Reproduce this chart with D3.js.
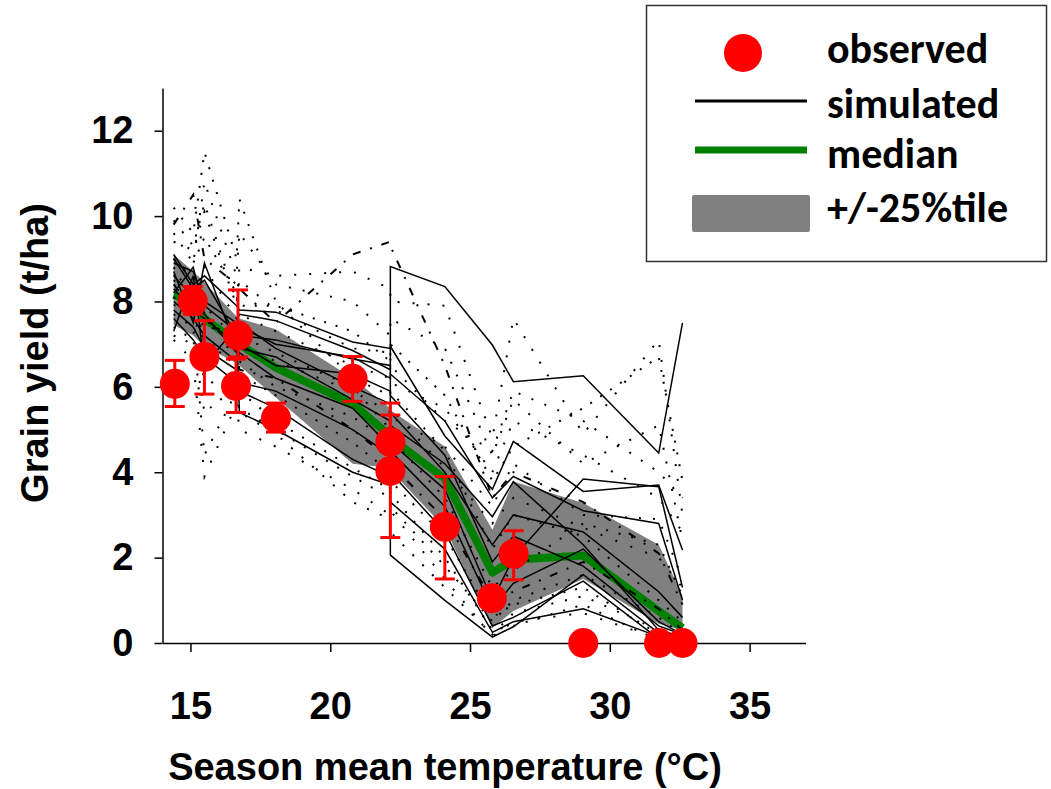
<!DOCTYPE html>
<html>
<head>
<meta charset="utf-8">
<script src="https://cdn.jsdelivr.net/npm/d3@7/dist/d3.min.js"></script>
<style>
  body { margin: 0; background: #fff; }
  svg { display: block; }
  .axis text { font-family: 'Liberation Sans', Arial, sans-serif; font-weight: bold; font-size: 38px; fill: #000; }
  .axis path, .axis line { stroke: #000; stroke-width: 1.5; }
  .title { font-family: 'Liberation Sans', Arial, sans-serif; font-weight: bold; font-size: 38px; }
  .legend text { font-family: Carlito, Lato, 'Open Sans', sans-serif; font-weight: bold; font-size: 42px; }
</style>
</head>
<body>
<svg id="chart" width="1051" height="789"></svg>
<script>
'use strict';

// site mean temperatures, sorted (two sites share 16.7 and 22.15)
const sites = [14.4, 15.1, 15.5, 16.65, 16.75, 18.05, 20.8, 22.15, 22.15, 24.1, 25.8, 26.55, 29.05, 31.75, 32.6];

// observed yield per site with error bar limits (null = no bar)
const obsTemp = [14.44, 15.08, 15.5, 16.63, 16.7, 18.06, 20.8, 22.15, 22.15, 24.1, 25.78, 26.56, 29.05, 31.76, 32.6];
const obsYield = [6.07, 8.01, 6.7, 6.02, 7.2, 5.27, 6.19, 4.71, 4.03, 2.72, 1.05, 2.09, 0, 0, 0];
const obsLow = [5.54, 7.7, 5.83, 5.4, 6.7, 4.94, 5.66, 3.9, 2.47, 1.5, null, 1.48, null, null, null];
const obsHigh = [6.62, 8.35, 7.55, 6.65, 8.27, 5.62, 6.71, 5.62, 5.34, 3.9, null, 2.63, null, null, null];

// ensemble median and inter-quartile band
const median = [8.15, 8.0, 7.6, 7.05, 7.0, 6.45, 5.6, 4.85, 4.8, 3.85, 1.65, 1.95, 2.05, 0.75, 0.35];
const upper = [9.1, 8.7, 8.45, 7.65, 7.6, 7.35, 6.2, 5.5, 5.45, 4.6, 2.65, 3.78, 3.28, 2.3, 1.1];
const lower = [7.45, 7.2, 6.95, 6.55, 6.5, 5.75, 4.2, 4.1, 4.05, 2.7, 0.35, 0.75, 1.5, 0.45, 0.3];

// simulated models drawn as solid lines
const solidModels = [
  [9.1, 8.4, 8.6, 7.9, 7.8, 7.75, 7.05, 6.9, 6.95, 4.85, 3.6, 4.72, 3.55, 3.7, 2.18],
  [8.9, 8.7, 8.0, 7.5, 7.7, 7.55, 6.85, 6.4, 8.82, 8.35, 6.98, 6.12, 6.26, 4.45, 7.5],
  [8.6, 8.1, 7.9, 7.3, 7.2, 7.1, 6.65, 6.5, 2.06, 1.0, 0.14, 0.38, 1.6, 0.23, 0.05],
  [8.3, 7.8, 7.6, 7.0, 6.9, 6.7, 5.7, 5.2, 5.1, 4.2, 2.96, 3.78, 2.3, 0.3, 0.15],
  [8.0, 7.6, 7.2, 6.6, 6.8, 6.2, 5.5, 4.6, 4.7, 3.6, 1.0, 2.0, 3.84, 3.66, 1.3],
  [7.8, 7.4, 6.9, 6.4, 6.1, 5.9, 5.0, 4.4, 4.5, 3.2, 0.8, 1.4, 2.2, 0.5, 0.2],
  [7.6, 7.1, 6.7, 6.1, 5.9, 5.5, 4.3, 3.9, 4.0, 2.6, 0.4, 0.6, 1.45, 0.1, 0.0],
  [9.0, 8.3, 8.5, 7.2, 7.5, 6.9, 6.0, 5.6, 5.4, 4.0, 2.3, 3.0, 2.6, 1.2, 0.6],
  [8.2, 8.8, 7.7, 6.8, 7.0, 6.5, 6.3, 5.9, 5.8, 4.4, 1.9, 2.5, 1.8, 0.4, 0.2],
  [7.3, 8.6, 6.5, 7.4, 5.4, 5.0, 4.0, 3.7, 3.3, 2.2, 0.25, 0.5, 0.8, 0.15, 0.05],
  [8.7, 7.5, 8.9, 6.9, 7.4, 7.0, 6.7, 6.2, 6.3, 5.2, 3.4, 3.9, 3.1, 2.8, 1.0]
];

// simulated models drawn dotted / dash-dotted
const dottedModels = [
  [10.2, 9.6, 11.5, 9.0, 10.4, 8.0, 6.2, 5.8, 5.9, 4.5, 2.2, 3.0, 2.5, 1.0, 0.5],
  [9.8, 10.5, 9.0, 8.4, 8.3, 7.5, 9.1, 9.4, 9.3, 6.5, 3.4, 4.0, 3.3, 2.1, 0.9],
  [9.4, 9.2, 10.1, 7.9, 8.8, 8.6, 8.7, 8.3, 8.0, 7.9, 4.8, 7.6, 4.9, 7.1, 3.0],
  [8.6, 8.9, 9.5, 8.2, 7.9, 7.9, 7.3, 6.6, 7.0, 5.8, 3.8, 4.6, 5.5, 6.7, 3.8],
  [7.9, 8.2, 7.0, 6.9, 7.2, 6.8, 6.0, 5.0, 5.3, 4.6, 3.2, 4.2, 3.0, 2.9, 1.5],
  [7.4, 7.1, 5.4, 6.0, 5.9, 5.2, 4.1, 3.6, 3.5, 2.0, 0.3, 0.4, 0.9, 0.05, 0.0],
  [7.1, 6.6, 3.9, 5.6, 5.0, 4.6, 3.6, 3.0, 3.1, 1.5, 0.15, 0.5, 0.7, 0.1, 0.0],
  [7.7, 7.4, 4.4, 5.9, 5.4, 4.9, 3.3, 2.9, 2.6, 1.3, 0.2, 0.7, 1.1, 0.3, 0.1],
  [8.8, 8.0, 7.6, 6.9, 6.6, 6.0, 5.3, 4.7, 4.8, 3.4, 1.3, 1.7, 2.8, 2.3, 1.1],
  [8.4, 7.8, 7.4, 7.3, 6.4, 6.2, 5.0, 4.3, 4.2, 2.9, 1.0, 1.2, 1.9, 0.8, 0.3],
  [9.0, 8.5, 8.8, 7.6, 7.7, 7.3, 6.5, 6.2, 6.1, 5.5, 4.0, 5.2, 4.4, 3.4, 2.6],
  [8.1, 7.6, 7.1, 6.5, 6.3, 5.8, 4.7, 4.0, 3.8, 2.5, 0.6, 0.9, 1.3, 0.2, 0.05],
  [9.6, 8.9, 10.8, 8.6, 9.6, 8.4, 8.0, 7.2, 7.6, 6.9, 4.4, 5.7, 4.2, 5.1, 2.4],
  [7.2, 7.0, 6.2, 5.8, 5.5, 5.0, 3.9, 3.4, 3.2, 1.8, 0.5, 1.0, 1.6, 0.6, 0.2],
  [8.5, 8.1, 7.9, 7.1, 7.0, 6.6, 5.9, 5.4, 5.5, 4.1, 2.8, 3.4, 2.7, 2.0, 1.3],
  [9.9, 9.3, 10.3, 8.0, 8.5, 7.8, 6.9, 6.8, 6.5, 5.2, 4.5, 5.9, 5.2, 4.0, 3.4]
];
const dashStyles = ['2,11', '8,10,2,10', '2,13', '2,10', '2,12', '2,11', '2,14', '2,12'];

const xTicks = [15, 20, 25, 30, 35];
const yTicks = [0, 2, 4, 6, 8, 10, 12];

const legendItems = ['observed', 'simulated', 'median', '+/-25%tile'];

const svg = d3.select('#chart');

const x = d3.scaleLinear().domain([14, 37]).range([162.5, 805.5]);
const y = d3.scaleLinear().domain([0, 13]).range([643, 88]);

svg.append('clipPath')
  .attr('id', 'clip')
  .append('rect')
  .attr('x', x(14))
  .attr('y', y(13))
  .attr('width', x(37) - x(14))
  .attr('height', y(0) - y(13));

const plot = svg.append('g').attr('clip-path', 'url(#clip)');

//Band of +/-25 percentile
const band = d3.area()
  .x((d, i) => x(sites[i]))
  .y0((d, i) => y(lower[i]))
  .y1((d, i) => y(upper[i]));

plot.append('path')
  .datum(sites)
  .attr('d', band)
  .attr('fill', '#808080');

//Median line
const line = d3.line()
  .defined(d => d !== null)
  .x((d, i) => x(sites[i]))
  .y(d => y(d));

plot.append('path')
  .datum(median)
  .attr('d', line)
  .attr('fill', 'none')
  .attr('stroke', '#008000')
  .attr('stroke-width', 8)
  .attr('stroke-linejoin', 'round');

//Simulated models
plot.selectAll('.dotted')
  .data(dottedModels)
  .enter()
  .append('path')
  .attr('class', 'dotted')
  .attr('d', line)
  .attr('fill', 'none')
  .attr('stroke', '#000')
  .attr('stroke-width', 2)
  .attr('stroke-dasharray', (d, i) => dashStyles[i % dashStyles.length]);

plot.selectAll('.solid')
  .data(solidModels)
  .enter()
  .append('path')
  .attr('class', 'solid')
  .attr('d', line)
  .attr('fill', 'none')
  .attr('stroke', '#000')
  .attr('stroke-width', 1.5);

//Axes
svg.append('g')
  .attr('class', 'axis')
  .attr('transform', `translate(0,${y(0)})`)
  .call(d3.axisBottom(x).tickValues(xTicks).tickSize(9).tickSizeOuter(0).tickPadding(40));

svg.append('g')
  .attr('class', 'axis')
  .attr('transform', `translate(${x(14)},0)`)
  .call(d3.axisLeft(y).tickValues(yTicks).tickSize(8).tickSizeOuter(0).tickPadding(21));

//Observed points with error bars
const obs = obsTemp.map((t, i) => ({ t, v: obsYield[i], lo: obsLow[i], hi: obsHigh[i] }));
const bars = svg.append('g')
  .selectAll('g')
  .data(obs.filter(d => d.lo !== null))
  .enter()
  .append('g')
  .attr('stroke', '#ff0000')
  .attr('stroke-width', 3);

bars.append('line')
  .attr('x1', d => x(d.t))
  .attr('x2', d => x(d.t))
  .attr('y1', d => y(d.lo))
  .attr('y2', d => y(d.hi));
bars.append('line')
  .attr('x1', d => x(d.t) - 10)
  .attr('x2', d => x(d.t) + 10)
  .attr('y1', d => y(d.lo))
  .attr('y2', d => y(d.lo));
bars.append('line')
  .attr('x1', d => x(d.t) - 10)
  .attr('x2', d => x(d.t) + 10)
  .attr('y1', d => y(d.hi))
  .attr('y2', d => y(d.hi));

svg.append('g')
  .selectAll('circle')
  .data(obs)
  .enter()
  .append('circle')
  .attr('cx', d => x(d.t))
  .attr('cy', d => y(d.v))
  .attr('r', 15)
  .attr('fill', '#ff0000');

//Axis titles
svg.append('text')
  .attr('class', 'title')
  .attr('x', 445)
  .attr('y', 780)
  .attr('text-anchor', 'middle')
  .text('Season mean temperature (°C)');

svg.append('text')
  .attr('class', 'title')
  .attr('transform', 'translate(48,353) rotate(-90)')
  .attr('text-anchor', 'middle')
  .text('Grain yield (t/ha)');

//Legend
const legend = svg.append('g').attr('class', 'legend');
legend.append('rect')
  .attr('x', 646.5)
  .attr('y', 5.5)
  .attr('width', 400)
  .attr('height', 256)
  .attr('fill', '#fff')
  .attr('stroke', '#333')
  .attr('stroke-width', 1.5);

legend.append('circle').attr('cx', 743).attr('cy', 53).attr('r', 19).attr('fill', '#ff0000');
legend.append('line').attr('x1', 695).attr('x2', 807).attr('y1', 101).attr('y2', 101)
  .attr('stroke', '#000').attr('stroke-width', 3);
legend.append('line').attr('x1', 695).attr('x2', 807).attr('y1', 150).attr('y2', 150)
  .attr('stroke', '#008000').attr('stroke-width', 7);
legend.append('rect').attr('x', 692).attr('y', 195).attr('width', 118).attr('height', 37).attr('rx', 2)
  .attr('fill', '#808080');

legend.selectAll('text')
  .data(legendItems)
  .enter()
  .append('text')
  .attr('x', 827)
  .attr('y', (d, i) => [63, 118, 168, 222][i])
  .text(d => d);
</script>
</body>
</html>
